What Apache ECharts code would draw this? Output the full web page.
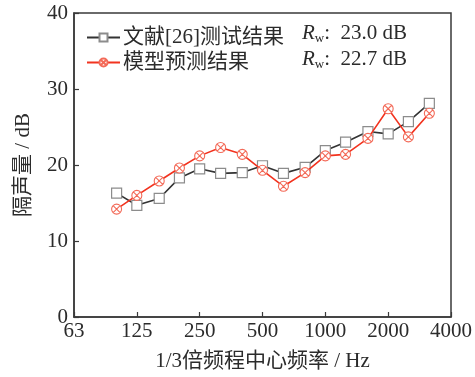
<!DOCTYPE html>
<html>
<head>
<meta charset="utf-8">
<script src="https://cdn.jsdelivr.net/npm/echarts@6/dist/echarts.min.js"></script>
<style>
  html, body { margin: 0; padding: 0; background: #fff; }
  #chart { width: 475px; height: 377px; }
</style>
</head>
<body>
<div id="chart"></div>
<script>
// 1/3-octave band centre frequencies (Hz)
const frequencies = [100, 125, 160, 200, 250, 315, 400, 500, 630, 800, 1000, 1250, 1600, 2000, 2500, 3150];
// Sound reduction index (dB)
const measured = [16.3, 14.7, 15.6, 18.3, 19.5, 18.9, 19.0, 19.9, 18.9, 19.7, 21.9, 23.0, 24.4, 24.1, 25.7, 28.1];
const predicted = [14.2, 16.0, 17.9, 19.6, 21.2, 22.3, 21.4, 19.3, 17.2, 19.0, 21.2, 21.4, 23.5, 27.4, 23.7, 26.8];
// Octave tick labels along the frequency axis
const octaveLabels = ['63', '125', '250', '500', '1000', '2000', '4000'];
const seriesNames = ['文献[26]测试结果', '模型预测结果'];
const ratings = ['23.0', '22.7'];

// Position on a third-octave scale, with 62.5 Hz at 0
const bandPos = f => 3 * Math.log2(f / 62.5);

const FONT = '"Liberation Serif", "Noto Sans CJK SC", serif';
const TXT = '#2b2b2b';
const AXIS = '#3a3a3a';

const circleX = 'path://M0,10A10,10 0 1 1 20,10A10,10 0 1 1 0,10Z M3,3L17,17 M17,3L3,17';

const chart = echarts.init(document.getElementById('chart'), null, { renderer: 'canvas' });

chart.setOption({
  animation: false,
  backgroundColor: '#fff',
  grid: {
    left: 74, right: 24, top: 13, bottom: 59,
    show: true, borderColor: AXIS, borderWidth: 1.5, backgroundColor: 'transparent'
  },
  legend: {
    orient: 'vertical',
    left: 81, top: 22,
    itemWidth: 33, itemHeight: 10, itemGap: 4,
    textStyle: { fontFamily: FONT, fontSize: 21, color: TXT, padding: [0, 0, 0, -2] },
    data: seriesNames
  },
  xAxis: {
    type: 'value',
    min: 0, max: 18, interval: 3,
    axisLine: { show: true, lineStyle: { color: AXIS, width: 1.5 } },
    axisTick: { show: true, inside: true, length: 5, lineStyle: { color: AXIS, width: 1.2 } },
    splitLine: { show: false },
    axisLabel: {
      fontFamily: FONT, fontSize: 21, color: TXT, margin: 4,
      formatter: v => octaveLabels[Math.round(v / 3)]
    },
    name: '1/3倍频程中心频率 / Hz',
    nameLocation: 'middle', nameGap: 34,
    nameTextStyle: { fontFamily: FONT, fontSize: 21, color: TXT }
  },
  yAxis: {
    type: 'value',
    min: 0, max: 40, interval: 10,
    axisLine: { show: true, lineStyle: { color: AXIS, width: 1.5 } },
    axisTick: { show: true, inside: true, length: 5, lineStyle: { color: AXIS, width: 1.2 } },
    splitLine: { show: false },
    axisLabel: { fontFamily: FONT, fontSize: 21, color: TXT, margin: 6 },
    name: '隔声量 / dB',
    nameLocation: 'middle', nameGap: 40, nameRotate: 90,
    nameTextStyle: { fontFamily: FONT, fontSize: 21, color: TXT }
  },
  series: [
    {
      name: seriesNames[0], type: 'line',
      data: frequencies.map((f, i) => [bandPos(f), measured[i]]),
      symbol: 'rect', symbolSize: 10,
      lineStyle: { color: '#333', width: 1.6 },
      itemStyle: { color: '#fff', borderColor: '#8c8c8c', borderWidth: 1.2 },
      z: 3
    },
    {
      name: seriesNames[1], type: 'line',
      data: frequencies.map((f, i) => [bandPos(f), predicted[i]]),
      symbol: circleX, symbolSize: 10,
      lineStyle: { color: '#f2331f', width: 1.6 },
      itemStyle: { color: '#fff', borderColor: '#f36a58', borderWidth: 1.1 },
      z: 4
    }
  ],
  graphic: ratings.map((r, i) => ({
    type: 'text',
    left: 302, top: 23 + i * 26,
    style: {
      text: '{r|R}{w|w}{t|:  ' + r + ' dB}',
      rich: {
        r: { fontFamily: FONT, fontStyle: 'italic', fontSize: 21, fill: TXT, lineHeight: 23 },
        w: { fontFamily: FONT, fontSize: 13, fill: TXT, verticalAlign: 'bottom', lineHeight: 23, padding: [6, 0, 0, 0] },
        t: { fontFamily: FONT, fontSize: 21, fill: TXT, lineHeight: 23 }
      }
    }
  }))
});
</script>
</body>
</html>
